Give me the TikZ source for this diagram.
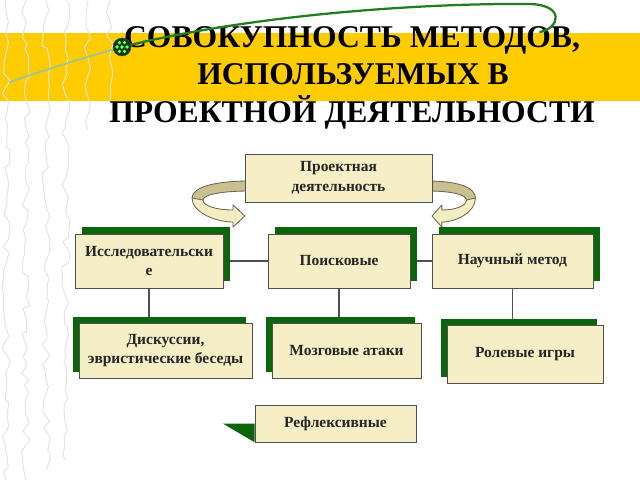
\documentclass[tikz,border=0pt]{standalone}
\usepackage{fontspec}
\setmainfont{Liberation Serif}
\usetikzlibrary{shadows,backgrounds,decorations.pathmorphing}

\definecolor{bandyellow}{HTML}{FFCC00}
\definecolor{boxfill}{HTML}{F5EEC6}
\definecolor{boxline}{HTML}{505050}
\definecolor{shadegreen}{HTML}{0B650B}
\definecolor{stemgreen}{HTML}{1F7F1F}
\definecolor{ribbonlight}{HTML}{F3EDC4}
\definecolor{ribbondark}{HTML}{C9C092}
\definecolor{ribbonline}{HTML}{6A6650}

\tikzset{
    method/.style={draw=boxline, fill=boxfill, inner sep=0pt, align=center,
        font=\bfseries\fontsize{11}{14}\selectfont, text=black!85},
    upshadow/.style={general shadow={fill=shadegreen, shadow xshift=5pt, shadow yshift=5pt}},
    leftshadow/.style={general shadow={fill=shadegreen, shadow xshift=-4.5pt, shadow yshift=4.5pt}},
    link/.style={draw=boxline, line width=0.8pt},
    heading/.style={font=\bfseries\fontsize{22.5}{26}\selectfont, inner sep=0pt, anchor=base},
    scribble/.style={gray!22, line width=0.7pt, line join=round,
        decorate, decoration={random steps, segment length=6pt, amplitude=3pt}},
}

% ribbon arrow, drawn with its tip at x=0
\newcommand{\ribbonarrow}{%
    \fill[ribbonlight] (5,181) .. controls (-30,181) and (-53,187) .. (-53,198)
        .. controls (-53,212) and (-30,222) .. (-12,222) -- (-12,227) -- (0,216) -- (-12,205) -- (-12,210)
        .. controls (-28,210) and (-42,206) .. (-42,200) .. controls (-42,195) and (-25,191) .. (5,191) -- cycle;
    \fill[ribbondark] (5,181) .. controls (-30,181) and (-53,187) .. (-53,198) -- (-42,200)
        .. controls (-42,195) and (-25,191) .. (5,191) -- cycle;
    \draw[ribbonline, line width=0.6pt, line join=round] (5,181) .. controls (-30,181) and (-53,187) .. (-53,198)
        .. controls (-53,212) and (-30,222) .. (-12,222) -- (-12,227) -- (0,216) -- (-12,205) -- (-12,210)
        .. controls (-28,210) and (-42,206) .. (-42,200) .. controls (-42,195) and (-25,191) .. (5,191);
    \draw[ribbonline, line width=0.6pt] (-53,198) -- (-42,200);
}

\begin{document}
\begin{tikzpicture}[x=0.025cm, y=-0.025cm]

    \useasboundingbox (0,0) rectangle (640,480);

    %% Title

    % band
    \fill[bandyellow] (0,33) rectangle (640,101);

    % grey doodles on the left
    \foreach \x/\ybot in {6/480, 26/480, 46/470, 66/460, 88/130, 110/115}
        \draw[scribble] (\x,0) -- (\x,\ybot);

    \node[heading] (title1) at (352,47) {СОВОКУПНОСТЬ МЕТОДОВ,};
    \node[heading] (title2) at (353,84) {ИСПОЛЬЗУЕМЫХ В};
    \node[heading] (title3) at (352,122) {ПРОЕКТНОЙ ДЕЯТЕЛЬНОСТИ};

    % green stem with the seed
    \draw[stemgreen!45, line width=1.2pt, line cap=round] (10,82) .. controls (50,68) and (90,56) .. (122,47);
    \draw[stemgreen, line width=1.6pt, line cap=round] (122,47) .. controls (250,15) and (420,3) .. (530,4)
        .. controls (565,5) and (560,28) .. (540,32);
    \coordinate (seed) at (122,47);
    \filldraw[fill=green!25!black, draw=black!70] (seed) circle[radius=6.4pt];
    \fill[green!55!white] (seed) circle[radius=1.3pt];
    \foreach \a in {0,60,...,300}
        \fill[green!55!white] (seed) ++(\a:5) circle[radius=1.3pt];

    %% Boxes

    \begin{scope}[shift={(245,0)}]
        \ribbonarrow
    \end{scope}
    \begin{scope}[shift={(432,0)}, xscale=-0.82]
        \ribbonarrow
    \end{scope}

    \node[method, minimum width=4.675cm, minimum height=1.2cm] (proj) at (338.5,178) {Проектная\\деятельность};

    \node[method, upshadow, minimum width=3.7cm, minimum height=1.35cm] (issl) at (149,261) {Исследовательски\\е};
    \node[method, upshadow, minimum width=3.55cm, minimum height=1.35cm] (poisk) at (339,261) {Поисковые};
    \node[method, upshadow, minimum width=4.025cm, minimum height=1.35cm] (nauch) at (512.5,261) {Научный метод};

    \node[method, leftshadow, minimum width=4.325cm, minimum height=1.375cm] (disk) at (165.5,350.5) {Дискуссии,\\эвристические беседы};
    \node[method, leftshadow, minimum width=3.725cm, minimum height=1.375cm] (mozg) at (346.5,350.5) {Мозговые атаки};
    \node[method, leftshadow, minimum width=3.9cm, minimum height=1.45cm] (rol) at (525,354) {Ролевые игры};

    \node[method, minimum width=4.025cm, minimum height=0.925cm] (refl) at (335.5,423.5) {Рефлексивные};

    \begin{scope}[on background layer]
        \draw[link] (issl.east) -- (poisk.west);
        \draw[link] (poisk.east) -- (nauch.west);
        \draw[link] (issl.south) -- (issl.south |- disk.north);
        \draw[link] (poisk.south) -- (poisk.south |- mozg.north);
        \draw[link] (nauch.south) -- (nauch.south |- rol.north);
        \fill[shadegreen] (refl.west) -- ++(-32,0) -- (refl.south west) -- cycle;
    \end{scope}

\end{tikzpicture}
\end{document}
